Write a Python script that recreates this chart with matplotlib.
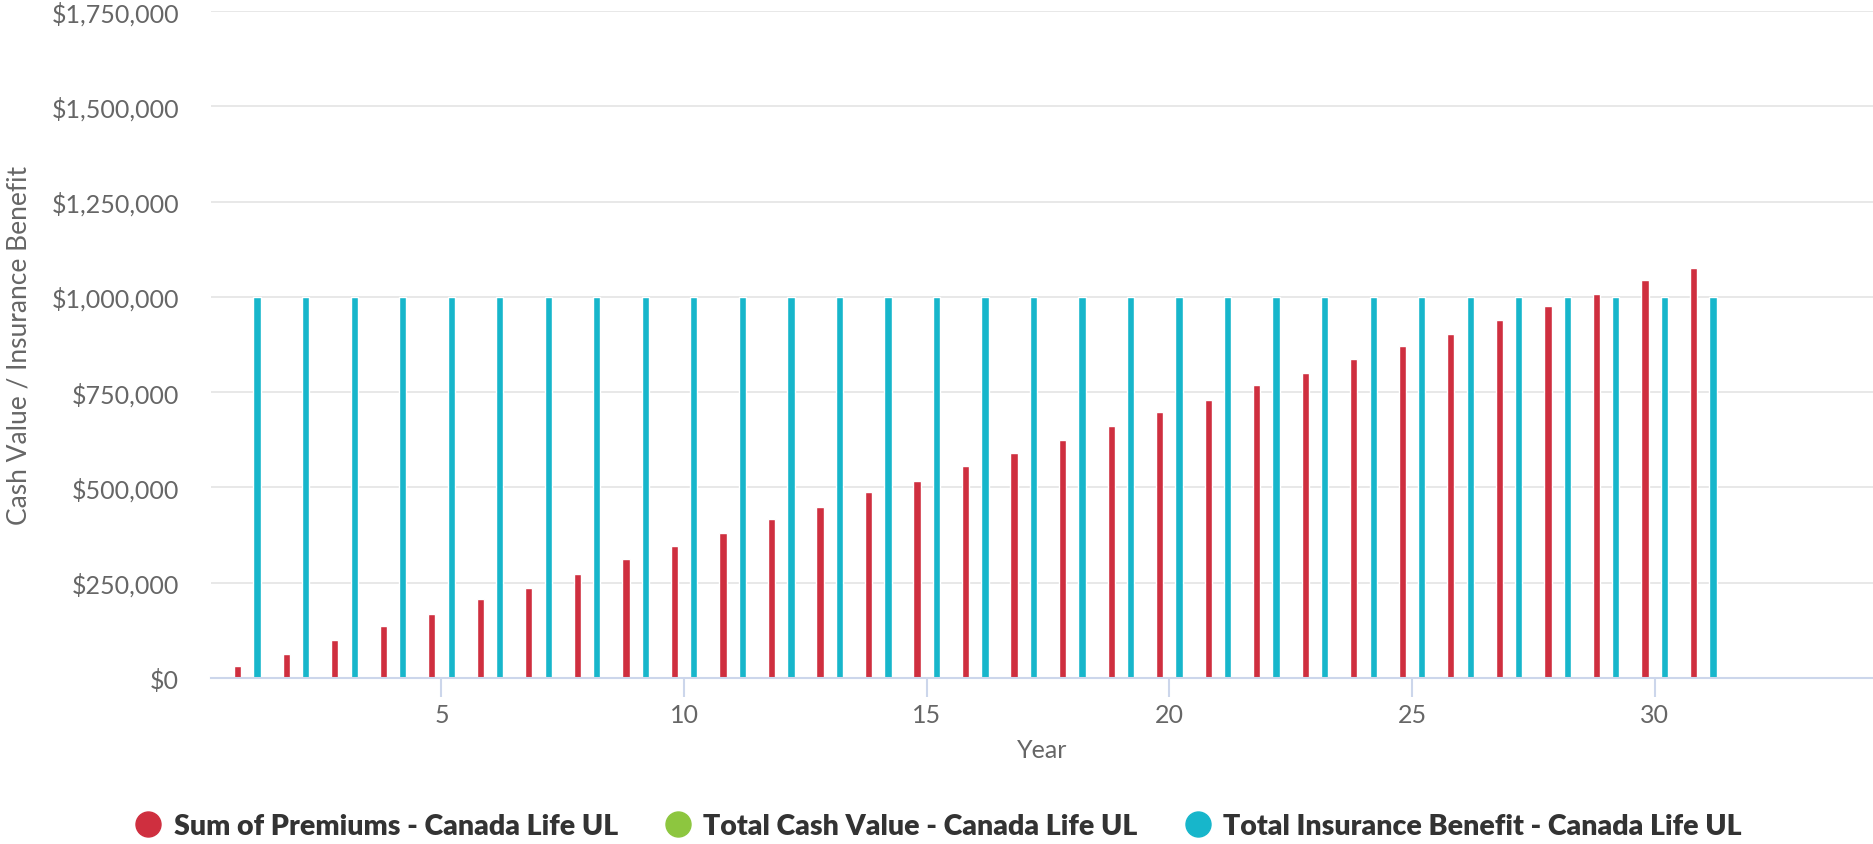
import matplotlib.pyplot as plt
from matplotlib.lines import Line2D
from matplotlib.ticker import FuncFormatter
import numpy as np

years = list(range(1, 32))
premiums = [31700, 63000, 100000, 137000, 169000, 206000, 237000, 274000, 311000, 346000,
            380000, 417000, 448000, 487000, 517000, 557000, 591000, 625000, 662000, 698000,
            729000, 768000, 799000, 836000, 871000, 902000, 940000, 976000, 1008000, 1045000,
            1076000]
cash_value = [0] * 31
insurance_benefit = [1000000] * 31

series_names = ["Sum of Premiums - Canada Life UL",
                "Total Cash Value - Canada Life UL",
                "Total Insurance Benefit - Canada Life UL"]
colors = ["#cf2f3f", "#8dc63f", "#17b6cb"]

plt.rcParams['font.family'] = ['Lato', 'DejaVu Sans']

W, H = 1873, 845
fig = plt.figure(figsize=(W / 100, H / 100), dpi=100)
left, top, bottom = 211, 12, 679
ax = fig.add_axes([left / W, 1 - bottom / H, 1 - left / W, (bottom - top) / H])

x = np.array(years)
offsets = [-0.2, 0.0, 0.2]
for vals, off, c in zip([premiums, cash_value, insurance_benefit], offsets, colors):
    ax.bar(x + off, vals, width=0.15, color=c, edgecolor="white", linewidth=1, zorder=3)

ax.set_xlim(0.25, 34.5)
ax.set_ylim(0, 1750000)
ax.set_yticks(np.arange(0, 1750001, 250000))
ax.yaxis.set_major_formatter(FuncFormatter(lambda v, p: "${:,.0f}".format(v)))
ax.set_xticks([5, 10, 15, 20, 25, 30])

ax.grid(axis="y", color="#e6e6e6", linewidth=1.3, zorder=0)
for s in ["top", "right", "left"]:
    ax.spines[s].set_visible(False)
ax.spines["bottom"].set_color("#ccd6eb")
ax.spines["bottom"].set_linewidth(1.5)
ax.spines["bottom"].set_zorder(4)

ax.tick_params(axis="y", length=0, pad=23, labelsize=18, labelcolor="#666666")
ax.tick_params(axis="x", length=14, width=1.5, color="#ccd6eb", pad=4,
               labelsize=18, labelcolor="#666666")

ax.set_ylabel("Cash Value / Insurance Benefit", fontsize=19, color="#666666", labelpad=14)
ax.set_xlabel("Year", fontsize=18, color="#666666", labelpad=9)

handles = [Line2D([], [], marker="o", linestyle="", markersize=18, color=c) for c in colors]
leg = fig.legend(handles, series_names, loc="center", bbox_to_anchor=(0.5, 1 - 827 / H),
                 ncol=3, frameon=False, handletextpad=0.3, columnspacing=1.5,
                 handlelength=1.2, prop={"weight": "heavy", "size": 20.5})
for t in leg.get_texts():
    t.set_color("#333333")

fig.savefig("out.png", dpi=100)
